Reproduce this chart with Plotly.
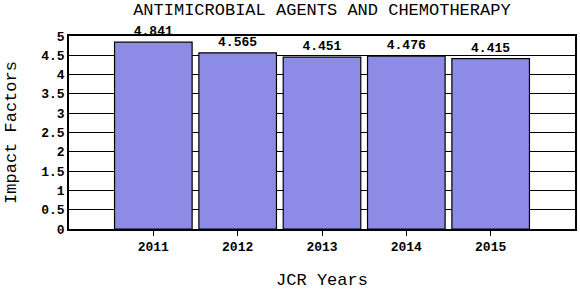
import plotly.graph_objects as go

years = ["2011", "2012", "2013", "2014", "2015"]
impact = [4.841, 4.565, 4.451, 4.476, 4.415]
labels = ["4.841", "4.565", "4.451", "4.476", "4.415"]
yticks = [0, 0.5, 1, 1.5, 2, 2.5, 3, 3.5, 4, 4.5, 5]
yticklabels = ["0", "0.5", "1", "1.5", "2", "2.5", "3", "3.5", "4", "4.5", "5"]

mono = "Liberation Mono, DejaVu Sans Mono, monospace"

fig = go.Figure()
fig.add_trace(go.Bar(
    x=list(range(len(years))), y=impact,
    width=0.92,
    marker=dict(color="#8c8ce6", line=dict(color="black", width=1.2)),
    text=labels, textposition="outside", cliponaxis=False,
    textfont=dict(family=mono, size=13, color="black", weight="bold"),
))
fig.update_layout(
    width=580, height=290,
    margin=dict(l=69, r=3, t=36, b=61),
    paper_bgcolor="white", plot_bgcolor="white",
    showlegend=False,
    title=dict(text="ANTIMICROBIAL AGENTS AND CHEMOTHERAPY", x=0.555, xanchor="center",
               y=0.97, yanchor="middle", font=dict(family=mono, size=17, color="black")),
    xaxis=dict(range=[-1, 5], tickvals=list(range(len(years))), ticktext=years,
               ticks="outside", ticklen=5, tickcolor="black", tickwidth=1,
               showgrid=False, showline=True, linecolor="black", mirror=True, linewidth=1.5,
               automargin=False,
               tickfont=dict(family=mono, size=13, color="black", weight="bold"),
               title=dict(text="JCR Years", font=dict(family=mono, size=17, color="black"), standoff=29)),
    yaxis=dict(range=[0, 5], tickvals=yticks, ticktext=yticklabels,
               showgrid=True, gridcolor="black", gridwidth=1,
               showline=True, linecolor="black", mirror=True, linewidth=1.5,
               ticks="", zeroline=False,
               tickfont=dict(family=mono, size=13, color="black", weight="bold"),
               title=dict(text="Impact Factors", font=dict(family=mono, size=17, color="black"), standoff=20)),
    bargap=0.08,
)
fig.write_html("out.html")
